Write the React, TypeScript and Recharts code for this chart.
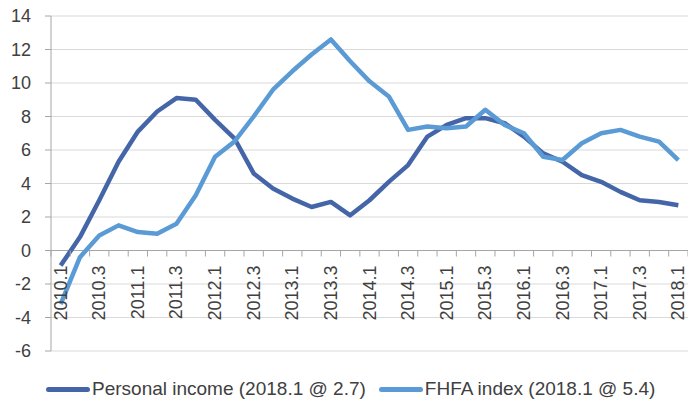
import React from "react";
import {
  LineChart,
  Line,
  XAxis,
  YAxis,
  CartesianGrid,
  Legend,
  ReferenceLine,
} from "recharts";

// ---------- data ----------
const quarters: string[] = [
  "2010.1", "2010.2", "2010.3", "2010.4",
  "2011.1", "2011.2", "2011.3", "2011.4",
  "2012.1", "2012.2", "2012.3", "2012.4",
  "2013.1", "2013.2", "2013.3", "2013.4",
  "2014.1", "2014.2", "2014.3", "2014.4",
  "2015.1", "2015.2", "2015.3", "2015.4",
  "2016.1", "2016.2", "2016.3", "2016.4",
  "2017.1", "2017.2", "2017.3", "2017.4",
  "2018.1",
];

const personalIncome: number[] = [
  -0.9, 0.8, 3.0, 5.3, 7.1, 8.3, 9.1, 9.0,
  7.8, 6.7, 4.6, 3.7, 3.1, 2.6, 2.9, 2.1,
  3.0, 4.1, 5.1, 6.8, 7.5, 7.9, 7.9, 7.6,
  6.8, 5.8, 5.3, 4.5, 4.1, 3.5, 3.0, 2.9,
  2.7,
];

const fhfaIndex: number[] = [
  -3.2, -0.4, 0.9, 1.5, 1.1, 1.0, 1.6, 3.3,
  5.6, 6.5, 8.0, 9.6, 10.7, 11.7, 12.6, 11.3,
  10.1, 9.2, 7.2, 7.4, 7.3, 7.4, 8.4, 7.5,
  7.0, 5.6, 5.4, 6.4, 7.0, 7.2, 6.8, 6.5,
  5.4,
];

const yTicks: number[] = [-6, -4, -2, 0, 2, 4, 6, 8, 10, 12, 14];

const seriesNames = {
  income: "Personal income (2018.1 @ 2.7)",
  fhfa: "FHFA index (2018.1 @ 5.4)",
};
const legendOrder: string[] = [seriesNames.income, seriesNames.fhfa];

const chartData = quarters.map((q, i) => ({
  q,
  income: personalIncome[i],
  fhfa: fhfaIndex[i],
}));

// ---------- layout ----------
const W = 688;
const H = 405;
const X_AXIS_H = 1;
const MARGIN = { top: 16, right: 0, bottom: 31, left: 0 };
const Y_AXIS_W = 51;
const LEGEND_H = 22;
const Y_MIN = -6;
const Y_MAX = 14;
const PLOT_TOP = MARGIN.top;
const PLOT_H = H - MARGIN.top - MARGIN.bottom - LEGEND_H - X_AXIS_H;
const PLOT_W = W - MARGIN.left - MARGIN.right - Y_AXIS_W;
const BAND = PLOT_W / quarters.length;
const ZERO_Y = PLOT_TOP + (PLOT_H * (Y_MAX - 0)) / (Y_MAX - Y_MIN);

const FONT = "'Liberation Sans', Arial, sans-serif";
const TEXT = "#404040";
const AXIS = "#a6a6a6";
const GRID = "#d9d9d9";
const DARK = "#4466a8";
const LIGHT = "#5b9bd5";

const XTick = (props: any) => {
  const { x, payload, index } = props;
  const left = x - BAND / 2;
  const isLast = index === quarters.length - 1;
  return (
    <g>
      <line x1={left} x2={left} y1={ZERO_Y} y2={ZERO_Y + 6} stroke={AXIS} strokeWidth={1} />
      {isLast && (
        <line x1={x + BAND / 2} x2={x + BAND / 2} y1={ZERO_Y} y2={ZERO_Y + 6} stroke={AXIS} strokeWidth={1} />
      )}
      {index % 2 === 0 && (
        <text
          x={x}
          y={ZERO_Y + 15}
          transform={`rotate(-90 ${x} ${ZERO_Y + 15})`}
          textAnchor="end"
          dominantBaseline="central"
          fontSize={18}
          fontFamily={FONT}
          fill={TEXT}
        >
          {payload.value}
        </text>
      )}
    </g>
  );
};

const LegendContent = (props: any) => {
  const payload = [...(props.payload || [])].sort(
    (a: any, b: any) => legendOrder.indexOf(a.value) - legendOrder.indexOf(b.value)
  );
  return (
    <div style={{ display: "flex", alignItems: "center", fontFamily: FONT, fontSize: 19, color: TEXT, height: LEGEND_H, whiteSpace: "nowrap" }}>
      {payload.map((p: any, i: number) => (
        <div key={i} style={{ display: "flex", alignItems: "center", marginRight: 13 }}>
          <div style={{ width: 44, height: 5, background: p.color, borderRadius: 2.5, marginRight: 2 }} />
          <span>{p.value}</span>
        </div>
      ))}
    </div>
  );
};

export default function App() {
  return (
    <div style={{ position: "absolute", left: 0, top: 0, width: W, height: H, overflow: "hidden", background: "#fff" }}>
      <LineChart width={W} height={H} data={chartData} margin={MARGIN}>
        <CartesianGrid vertical={false} stroke={GRID} strokeWidth={1} />
        <XAxis
          dataKey="q"
          scale="band"
          height={X_AXIS_H}
          interval={0}
          axisLine={false}
          tickLine={false}
          tick={(p: any) => <XTick {...p} />}
        />
        <YAxis
          width={Y_AXIS_W}
          domain={[Y_MIN, Y_MAX]}
          ticks={yTicks}
          interval={0}
          axisLine={{ stroke: AXIS }}
          tickLine={{ stroke: AXIS }}
          tickSize={6}
          tickMargin={14}
          tick={{ fontSize: 18, fill: TEXT, fontFamily: FONT }}
        />
        <ReferenceLine y={0} stroke={AXIS} strokeWidth={1} />
        <Line
          type="linear"
          dataKey="income"
          name={seriesNames.income}
          stroke={DARK}
          strokeWidth={4.5}
          dot={false}
          strokeLinejoin="round"
          isAnimationActive={false}
        />
        <Line
          type="linear"
          dataKey="fhfa"
          name={seriesNames.fhfa}
          stroke={LIGHT}
          strokeWidth={4.5}
          dot={false}
          strokeLinejoin="round"
          isAnimationActive={false}
        />
        <Legend
          verticalAlign="bottom"
          height={LEGEND_H}
          content={(p: any) => <LegendContent {...p} />}
          wrapperStyle={{ left: 46, top: 378, width: "auto", height: LEGEND_H }}
        />
      </LineChart>
    </div>
  );
}
